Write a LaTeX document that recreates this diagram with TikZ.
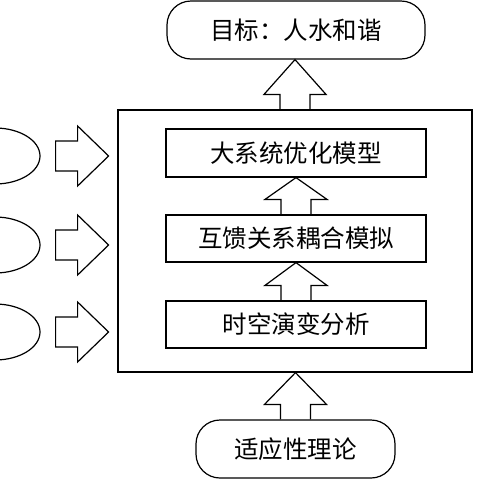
\documentclass[tikz,border=0pt]{standalone}
\usepackage{fontspec}
\newfontfamily\cjk{Noto Sans CJK SC}
\usetikzlibrary{calc,shapes.geometric}

\tikzset{
  box/.style={draw, line width=1.2pt, inner sep=0pt, font=\cjk\fontsize{24.5pt}{27pt}\selectfont},
  roundbox/.style={box, rounded corners=24pt},
  hollow/.style={draw, line width=1.2pt, line join=miter}
}

% hollow arrow pointing up, from the top of #1 to the bottom of #2
\newcommand{\hollowup}[2]{%
  \draw[hollow] ($(#1.north)+(-15,0)$) -- ++(0,-15) -- ++(-16,0) -- (#2.south -| #1.north)
    -- ($(#1.north)+(31,-15)$) -- ++(-16,0) -- ($(#1.north)+(15,0)$);}
% hollow arrow pointing right, beside the ellipse #1
\newcommand{\hollowright}[1]{%
  \draw[hollow] ($(#1.east)+(15,-15)$) -- ++(22,0) -- ++(0,-15) -- ++(31,30)
    -- ++(-31,30) -- ++(0,-15) -- ++(-22,0) -- cycle;}

\begin{document}
\begin{tikzpicture}[x=1pt,y=1pt,yscale=-1]
        \useasboundingbox (0,0) rectangle (480,480);
        \clip (0,0) rectangle (480,480);

        % Text Node
        \node [roundbox, minimum width=258pt, minimum height=58pt] (goal) at (296,30) {目标：人水和谐};
        %Shape: Rectangle
        \node [draw, line width=1.2pt, minimum width=354pt, minimum height=262pt] (frame) at (295,241) {};
        % Text Node
        \node [box, minimum width=260pt, minimum height=48pt] (optim) at (296,153) {大系统优化模型};
        % Text Node
        \node [box, minimum width=260pt, minimum height=47pt] (coupl) at (296,238.5) {互馈关系耦合模拟};
        % Text Node
        \node [box, minimum width=260pt, minimum height=47pt] (evol) at (296,324.5) {时空演变分析};
        % Text Node
        \node [roundbox, minimum width=199pt, minimum height=58pt] (theory) at (295.5,449) {适应性理论};

        %Shape: Ellipse
        \node [ellipse, draw, line width=1.2pt, minimum width=90pt, minimum height=56pt] (src1) at (-5,156) {};
        \node [ellipse, draw, line width=1.2pt, minimum width=90pt, minimum height=56pt] (src2) at (-5,245) {};
        \node [ellipse, draw, line width=1.2pt, minimum width=90pt, minimum height=56pt] (src3) at (-5,332) {};

        %Block Arrows
        \hollowup{frame}{goal}
        \hollowup{coupl}{optim}
        \hollowup{evol}{coupl}
        \hollowup{theory}{frame}
        \hollowright{src1}
        \hollowright{src2}
        \hollowright{src3}

\end{tikzpicture}
\end{document}
